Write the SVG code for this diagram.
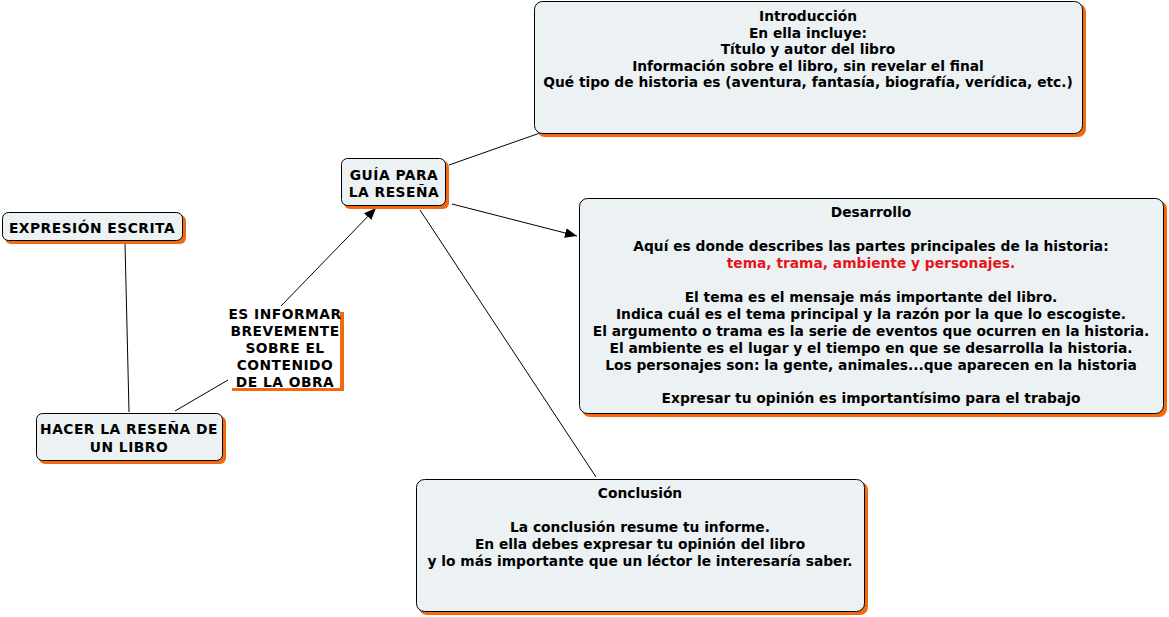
<svg xmlns="http://www.w3.org/2000/svg" width="1169" height="617" viewBox="0 0 1169 617">
<style>
.sh{fill:#f26a10;}
.bx{fill:#ecf2f4;stroke:#000;stroke-width:1;}
.t{font-family:"DejaVu Sans",Verdana,sans-serif;font-weight:bold;font-size:13.8px;fill:#000;text-anchor:middle;}
.u{letter-spacing:0.5px;}
.red{fill:#e8141a;}
.c{stroke:#000;stroke-width:1;fill:none;}
</style>
<defs>
<marker id="ah" viewBox="0 0 12 10" refX="12" refY="5" markerWidth="12" markerHeight="10" markerUnits="userSpaceOnUse" orient="auto">
<path d="M0,0 L12,5 L0,10 z" fill="#000"/>
</marker>
</defs>
<rect width="1169" height="617" fill="#fff"/>
<g id="connectors">
<line class="c" x1="125" y1="243" x2="129" y2="412"/>
<line class="c" x1="175" y1="411" x2="228" y2="380"/>
<line class="c" x1="281" y1="306" x2="376" y2="208" marker-end="url(#ah)"/>
<line class="c" x1="449" y1="165" x2="540" y2="133"/>
<line class="c" x1="452" y1="204" x2="577" y2="236" marker-end="url(#ah)"/>
<line class="c" x1="420" y1="210" x2="596" y2="477"/>
</g>
<g id="expresion">
<rect class="sh" x="5" y="215" width="181" height="29" rx="6"/>
<rect class="bx" x="2.5" y="212.5" width="180" height="28" rx="6"/>
<text class="t u" x="92" y="233">EXPRESIÓN ESCRITA</text>
</g>
<g id="guia">
<rect class="sh" x="344" y="161" width="105" height="48" rx="6"/>
<rect class="bx" x="341.5" y="158.5" width="104" height="47" rx="6"/>
<text class="t u" x="394" y="180">GUÍA PARA</text>
<text class="t u" x="394" y="197">LA RESEÑA</text>
</g>
<g id="informar">
<rect class="sh" x="232" y="312" width="112" height="79"/>
<rect x="228" y="306" width="112" height="82" fill="#fff"/>
<text class="t u" x="285" y="319">ES INFORMAR</text>
<text class="t u" x="285" y="336">BREVEMENTE</text>
<text class="t u" x="285" y="353">SOBRE EL</text>
<text class="t u" x="285" y="370">CONTENIDO</text>
<text class="t u" x="285" y="387">DE LA OBRA</text>
</g>
<g id="hacer">
<rect class="sh" x="39" y="416" width="187" height="48" rx="6"/>
<rect class="bx" x="36.5" y="413.5" width="186" height="47" rx="6"/>
<text class="t u" x="129" y="434">HACER LA RESEÑA DE</text>
<text class="t u" x="129" y="452">UN LIBRO</text>
</g>
<g id="introduccion">
<rect class="sh" x="537" y="4" width="549" height="133" rx="8"/>
<rect class="bx" x="534.5" y="1.5" width="548" height="132" rx="8"/>
<text class="t" x="808" y="21">Introducción</text>
<text class="t" x="808" y="37.5">En ella incluye:</text>
<text class="t" x="808" y="54">Título y autor del libro</text>
<text class="t" x="808" y="70.5">Información sobre el libro, sin revelar el final</text>
<text class="t" x="808" y="87">Qué tipo de historia es (aventura, fantasía, biografía, verídica, etc.)</text>
</g>
<g id="desarrollo">
<rect class="sh" x="582" y="201" width="585" height="216" rx="8"/>
<rect class="bx" x="579.5" y="198.5" width="584" height="215" rx="8"/>
<text class="t" x="871" y="217">Desarrollo</text>
<text class="t" x="871" y="251">Aquí es donde describes las partes principales de la historia:</text>
<text class="t red" x="871" y="268">tema, trama, ambiente y personajes.</text>
<text class="t" x="871" y="302">El tema es el mensaje más importante del libro.</text>
<text class="t" x="871" y="318.5">Indica cuál es el tema principal y la razón por la que lo escogiste.</text>
<text class="t" x="871" y="335.5">El argumento o trama es la serie de eventos que ocurren en la historia.</text>
<text class="t" x="871" y="352.5">El ambiente es el lugar y el tiempo en que se desarrolla la historia.</text>
<text class="t" x="871" y="369.5">Los personajes son: la gente, animales...que aparecen en la historia</text>
<text class="t" x="871" y="403">Expresar tu opinión es importantísimo para el trabajo</text>
</g>
<g id="conclusion">
<rect class="sh" x="419" y="482" width="449" height="133" rx="8"/>
<rect class="bx" x="416.5" y="479.5" width="448" height="132" rx="8"/>
<text class="t" x="640" y="498">Conclusión</text>
<text class="t" x="640" y="532">La conclusión resume tu informe.</text>
<text class="t" x="640" y="549">En ella debes expresar tu opinión del libro</text>
<text class="t" x="640" y="566">y lo más importante que un léctor le interesaría saber.</text>
</g>
</svg>
